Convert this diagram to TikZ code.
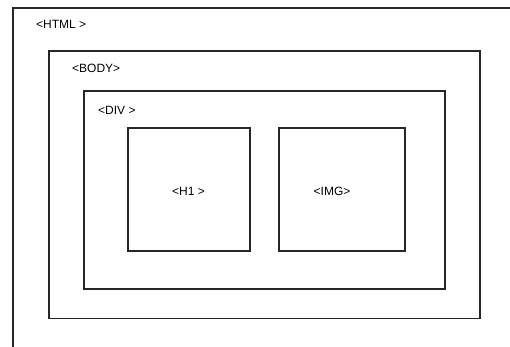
\documentclass[tikz,border=0pt]{standalone}
\usepackage{fontspec}
\setmainfont{Liberation Sans}
\begin{document}
\begin{tikzpicture}[x=1pt,y=-1pt,
  box/.style={draw=black!85,line width=1.7pt,inner sep=0pt,anchor=north west},
  tag/.style={font=\fontsize{12}{14}\selectfont,inner sep=0pt,text=black}]
\useasboundingbox (0,0) rectangle (510,347);
\clip (0,0) rectangle (510,347);
\fill[white] (0,0) rectangle (510,347);
\node[box,minimum width=560pt,minimum height=400pt] (html) at (12,7.5) {};
\node[box,minimum width=431pt,minimum height=267pt] (body) at (48,50.5) {};
\node[box,minimum width=361pt,minimum height=198pt] (div) at (83,90) {};
\node[box,minimum width=122pt,minimum height=122.5pt] (h1) at (127,127.5) {};
\node[box,minimum width=126pt,minimum height=122.5pt] (img) at (278,127.5) {};
\node[tag,anchor=west] (thtml) at (36,24) {<HTML >};
\node[tag,anchor=west] (tbody) at (72,68) {<BODY>};
\node[tag,anchor=west] (tdiv) at (98,110) {<DIV >};
\node[tag] (th1) at (188.5,191.5) {<H1 >};
\node[tag] (timg) at (332,191.5) {<IMG>};
\end{tikzpicture}
\end{document}
